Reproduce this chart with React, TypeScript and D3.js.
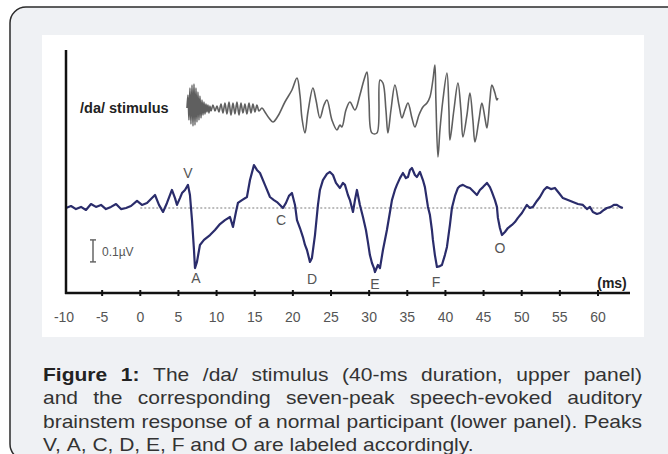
import React, { useEffect, useRef } from "react";
import * as d3 from "d3";

// x axis ticks (ms)
const xTicks = [-10, -5, 0, 5, 10, 15, 20, 25, 30, 35, 40, 45, 50, 55, 60];

// speech-evoked ABR, time (ms) / amplitude (µV)
const respMs = [
  -9.74, -9.08, -8.43, -7.77, -7.12, -6.46, -5.81, -5.15, -4.5, -3.84, -3.18, -2.53, -1.87, -1.22, -0.43,
  0.22, 0.88, 1.4, 1.93, 2.45, 2.98, 3.5, 4.15, 4.55, 4.81, 5.2, 5.47, 5.86, 6.25, 6.51, 6.78, 7.04, 7.17,
  7.43, 7.82, 8.35, 9.14, 9.79, 10.45, 11.1, 11.76, 12.15, 12.54, 12.8, 13.33, 13.98, 14.38, 14.9, 15.29,
  15.69, 16.34, 17.0, 17.52, 17.92, 18.31, 18.7, 19.1, 19.49, 19.88, 20.28, 20.54, 20.93, 21.32, 21.59,
  21.85, 22.11, 22.24, 22.5, 22.9, 23.29, 23.55, 23.94, 24.47, 24.86, 25.26, 25.65, 26.17, 26.57, 26.83,
  27.22, 27.48, 27.88, 28.14, 28.4, 28.79, 29.19, 29.58, 29.84, 30.1, 30.37, 30.63, 30.76, 31.15, 31.42,
  31.81, 32.33, 32.73, 32.99, 33.38, 33.64, 34.04, 34.43, 34.82, 35.09, 35.35, 35.61, 36.0, 36.26, 36.66,
  37.05, 37.31, 37.71, 37.97, 38.23, 38.36, 38.62, 38.89, 39.28, 39.54, 39.93, 40.2, 40.59, 40.85, 41.25,
  41.64, 41.9, 42.29, 42.82, 43.21, 43.74, 44.13, 44.52, 44.92, 45.44, 45.83, 46.09, 46.49, 46.75, 46.88,
  47.14, 47.41, 47.8, 48.19, 48.72, 49.11, 49.5, 50.03, 50.42, 50.68, 51.08, 51.47, 51.99, 52.39, 52.91,
  53.3, 53.83, 54.35, 54.88, 55.4, 56.06, 56.71, 57.37, 58.02, 58.55, 58.94, 59.33, 59.86, 60.25, 60.77,
  61.17, 61.69, 62.08, 62.48, 62.87, 63.26,
];
const respUv = [
  0, 0.009, -0.005, 0.005, -0.009, 0.018, 0.005, 0.014, -0.005, 0.005, 0.018, -0.005, 0, 0.009, 0.032,
  0.014, 0.023, 0.041, 0.059, 0.014, -0.018, 0.023, 0.082, 0.045, 0.014, 0.045, 0.068, 0.082, 0.105, 0.059,
  -0.055, -0.191, -0.273, -0.245, -0.168, -0.145, -0.123, -0.1, -0.073, -0.055, -0.041, -0.086, -0.018,
  0.023, 0.036, 0.05, 0.127, 0.195, 0.173, 0.159, 0.105, 0.05, 0.036, 0.027, 0.014, 0, 0.023, 0.055, 0.068,
  0.014, -0.055, -0.091, -0.132, -0.168, -0.191, -0.227, -0.245, -0.227, -0.123, 0.014, 0.082, 0.127, 0.155,
  0.164, 0.15, 0.114, 0.091, 0.114, 0.105, 0.059, 0.036, -0.018, 0.036, 0.082, 0.014, -0.041, -0.1, -0.155,
  -0.214, -0.25, -0.273, -0.291, -0.259, -0.273, -0.191, -0.1, -0.018, 0.036, 0.082, 0.105, 0.136, 0.159,
  0.136, 0.141, 0.173, 0.182, 0.15, 0.141, 0.164, 0.127, 0.095, 0.005, -0.032, -0.1, -0.145, -0.214, -0.268,
  -0.264, -0.259, -0.214, -0.177, -0.077, 0, 0.055, 0.091, 0.1, 0.105, 0.095, 0.091, 0.073, 0.059, 0.082,
  0.095, 0.114, 0.095, 0.073, 0.036, 0.005, -0.045, -0.091, -0.123, -0.109, -0.091, -0.077, -0.064, -0.045,
  -0.023, 0, 0.014, 0, 0.005, 0.032, 0.05, 0.082, 0.095, 0.086, 0.091, 0.068, 0.045, 0.036, 0.027, 0.018,
  0.014, -0.005, 0.005, -0.018, -0.027, -0.023, -0.009, 0, 0.005, 0.014, 0.014, 0.005, 0,
];

// /da/ stimulus waveform, time (ms) / amplitude (a.u.)
const stimMs = [
  6.12, 6.25, 6.38, 6.51, 6.64, 6.78, 6.91, 7.04, 7.17, 7.3, 7.43, 7.56, 7.69, 7.82, 7.96, 8.09, 8.22, 8.35,
  8.48, 8.61, 8.74, 8.87, 9.0, 9.13, 9.27, 9.53, 9.79, 10.05, 10.31, 10.58, 10.84, 11.1, 11.36, 11.63,
  11.89, 12.15, 12.41, 12.67, 12.94, 13.2, 13.46, 13.72, 13.98, 14.25, 14.51, 14.77, 15.03, 15.29, 15.56,
  15.95, 16.34, 16.87, 17.39, 18.05, 18.96, 19.88, 20.54, 20.93, 21.19, 21.59, 21.98, 22.63, 23.03, 23.55,
  24.08, 24.47, 25.12, 25.78, 26.17, 26.43, 26.96, 27.48, 28.14, 28.79, 29.32, 29.71, 29.97, 30.37, 31.02,
  31.42, 31.81, 32.2, 32.46, 32.86, 33.38, 33.91, 34.3, 34.69, 35.09, 35.61, 36.0, 36.53, 37.05, 37.58,
  37.97, 38.36, 38.62, 38.75, 39.02, 39.28, 39.67, 40.2, 40.46, 40.59, 41.11, 41.64, 42.03, 42.29, 42.82,
  43.21, 43.6, 43.87, 44.39, 44.78, 45.18, 45.44, 45.83, 46.09, 46.49, 46.75, 46.88,
];
const stimAu = [
  0, 2.6, -2.4, 4, -3.2, 4.6, -3.6, 4.8, -3.4, 4, -2.8, 3.2, -2.4, 2.4, -2, 1.6, -1.4, 1.2, -1.2, 0.8, -0.8,
  0.6, -1, 0.4, -0.6, 0.6, -0.6, 0.4, -0.8, 0.8, -1, 1, -1.2, 1.2, -1.4, 1, -1.2, 1.2, -1.4, 1, -1, 0.8,
  -1.2, 1, -1, 0.8, -0.8, 0.6, -0.6, 0, -0.8, -2, -2.8, -1.6, 1.2, 3.6, 6, 2.6, -2, -5, -0.8, 4, 1.6, -2,
  0.6, 1.6, -2.4, -4.4, -3.4, -3.8, -0.4, 1.2, -0.4, 2.6, 5.6, 7.2, 1.6, -5, -5, 5.6, 5, -0.4, -5, -0.4,
  4.6, 0.6, -2, -0.4, 1, -2, -3.8, -1.4, 0.2, 1, 2.2, 5.6, 8.6, 1.6, -9.8, -4.4, 1.6, 7, -0.4, -6.4, -0.4,
  5, -0.4, -5.8, -1.4, 3, -2.4, -6.8, -2.4, 1, -2, -4, 1.6, 4.6, 3, 1.6, 2,
];

// labelled peaks
const peakNames = ["V", "A", "C", "D", "E", "F", "O"];
const peakMs = [6.25, 7.17, 18.7, 22.24, 30.76, 38.89, 47.41];
const peakUv = [0.105, -0.273, 0, -0.245, -0.291, -0.268, -0.123];

const captionLines = [
  [["Figure", true], ["1:", true], "The", "/da/", "stimulus", "(40-ms", "duration,", "upper", "panel)"],
  ["and", "the", "corresponding", "seven-peak", "speech-evoked", "auditory"],
  ["brainstem", "response", "of", "a", "normal", "participant", "(lower", "panel).", "Peaks"],
  ["V,", "A,", "C,", "D,", "E,", "F", "and", "O", "are", "labeled", "accordingly."],
];

const font = "'Liberation Sans', Arial, Helvetica, sans-serif";

const App = () => {
  const ref = useRef<SVGSVGElement>(null);

  useEffect(() => {
    const svg = d3.select(ref.current);
    svg.selectAll("*").remove();
    draw(svg);
  }, []);

  const draw = (svg: any) => {
    var width = 668,
      height = 454,
      x = d3.scaleLinear().domain([-10, 60]).range([64, 598]),
      y = d3.scaleLinear().domain([-0.4, 0.2]).range([296, 164]),
      ys = d3.scaleLinear().domain([-10, 10]).range([158, 58]);

    svg.append("rect").attr("width", width).attr("height", height).attr("fill", "#fff");
    // card frame, runs off the right and bottom edges
    svg
      .append("rect")
      .attr("x", 10)
      .attr("y", 7)
      .attr("width", 690)
      .attr("height", 453)
      .attr("rx", 16)
      .attr("fill", "#eff1f4")
      .attr("stroke", "#2b2b2b")
      .attr("stroke-width", 1.5);
    svg.append("rect").attr("x", 42).attr("y", 35).attr("width", 602).attr("height", 302).attr("fill", "#fff");

    // baseline (dotted)
    svg
      .append("line")
      .attr("x1", x(0))
      .attr("x2", x(63.26))
      .attr("y1", y(0))
      .attr("y2", y(0))
      .attr("stroke", "#a8a8a8")
      .attr("stroke-width", 1.5)
      .attr("stroke-dasharray", "2,2");

    // stimulus
    var stimLine = d3
      .line<number>()
      .x((d, i) => x(stimMs[i]))
      .y(d => ys(d))
      .curve(d3.curveCatmullRom.alpha(0.5));
    svg
      .append("path")
      .attr("d", stimLine(stimAu))
      .attr("fill", "none")
      .attr("stroke", "#5f5f5f")
      .attr("stroke-width", 1.6)
      .attr("stroke-linejoin", "round");

    // response
    var respLine = d3
      .line<number>()
      .x((d, i) => x(respMs[i]))
      .y(d => y(d));
    svg
      .append("path")
      .attr("d", respLine(respUv))
      .attr("fill", "none")
      .attr("stroke", "#2a2c6b")
      .attr("stroke-width", 2.2)
      .attr("stroke-linejoin", "round");

    // axes
    var axisY = 293;
    svg.append("line").attr("x1", 66).attr("x2", 66).attr("y1", 50).attr("y2", axisY + 1)
      .attr("stroke", "#111").attr("stroke-width", 2.5);
    svg.append("line").attr("x1", 65).attr("x2", 630).attr("y1", axisY).attr("y2", axisY)
      .attr("stroke", "#111").attr("stroke-width", 2.5);

    svg
      .selectAll("line.tick")
      .data(xTicks.filter(t => t > -10))
      .enter()
      .append("line")
      .attr("class", "tick")
      .attr("x1", d => x(d))
      .attr("x2", d => x(d))
      .attr("y1", axisY - 3)
      .attr("y2", axisY + 3)
      .attr("stroke", "#111")
      .attr("stroke-width", 2);

    svg
      .selectAll("text.tick")
      .data(xTicks)
      .enter()
      .append("text")
      .attr("class", "tick")
      .attr("x", d => x(d))
      .attr("y", 322)
      .attr("text-anchor", "middle")
      .attr("font-family", font)
      .attr("font-size", 14)
      .attr("fill", "#555")
      .text(d => d);

    svg.append("text").attr("x", 612).attr("y", 288).attr("text-anchor", "middle")
      .attr("font-family", font).attr("font-size", 14).attr("font-weight", "bold").attr("fill", "#222")
      .text("(ms)");

    svg.append("text").attr("x", 80).attr("y", 113)
      .attr("font-family", font).attr("font-size", 14.5).attr("font-weight", "bold").attr("fill", "#222")
      .text("/da/ stimulus");

    // 0.1 µV scale bar
    var sb = svg.append("g").attr("stroke", "#666").attr("stroke-width", 1.5);
    sb.append("line").attr("x1", 93).attr("x2", 93).attr("y1", y(-0.145)).attr("y2", y(-0.245));
    sb.append("line").attr("x1", 90).attr("x2", 96).attr("y1", y(-0.145)).attr("y2", y(-0.145));
    sb.append("line").attr("x1", 90).attr("x2", 96).attr("y1", y(-0.245)).attr("y2", y(-0.245));
    svg.append("text").attr("x", 102).attr("y", 256)
      .attr("font-family", font).attr("font-size", 12).attr("fill", "#555")
      .text("0.1µV");

    // peak labels
    var peakDy = [-7, 15, 17, 22, 17, 20, 18];
    var peakDx = [0, 1, -2, 2, 0, -1, -2];
    svg
      .selectAll("text.peak")
      .data(peakNames)
      .enter()
      .append("text")
      .attr("class", "peak")
      .attr("x", (d, i) => x(peakMs[i]) + peakDx[i])
      .attr("y", (d, i) => y(peakUv[i]) + peakDy[i])
      .attr("text-anchor", "middle")
      .attr("font-family", font)
      .attr("font-size", 14)
      .attr("fill", "#555")
      .text(d => d);

    // caption: glyphs a little wide, lines justified
    var capLeft = 43,
      capWidth = 599,
      capFont = 17.5,
      sx = 1.2,
      baselines = [381, 404.5, 428, 451];
    captionLines.forEach((words: any[], li) => {
      var g = svg
        .append("g")
        .attr("transform", "translate(" + capLeft + ",0) scale(" + sx + ",1)")
        .attr("font-family", font)
        .attr("font-size", capFont)
        .attr("fill", "#333");
      var nodes = words.map(w => {
        var isBold = Array.isArray(w) && w[1];
        var txt = Array.isArray(w) ? w[0] : w;
        return g
          .append("text")
          .attr("y", baselines[li])
          .attr("font-weight", isBold ? "bold" : "normal")
          .attr("fill", isBold ? "#222" : "#333")
          .text(txt);
      });
      var widths = nodes.map(n => n.node().getComputedTextLength());
      var total = d3.sum(widths);
      var justify = li < captionLines.length - 1;
      var gap = justify ? (capWidth / sx - total) / (words.length - 1) : capFont * 0.278;
      var cx = 0;
      nodes.forEach((n, i) => {
        n.attr("x", cx);
        cx += widths[i] + gap;
      });
    });
  };

  return (
    <svg
      ref={ref}
      width={668}
      height={454}
      style={{ position: "absolute", left: 0, top: 0, display: "block" }}
    />
  );
};

export default App;
